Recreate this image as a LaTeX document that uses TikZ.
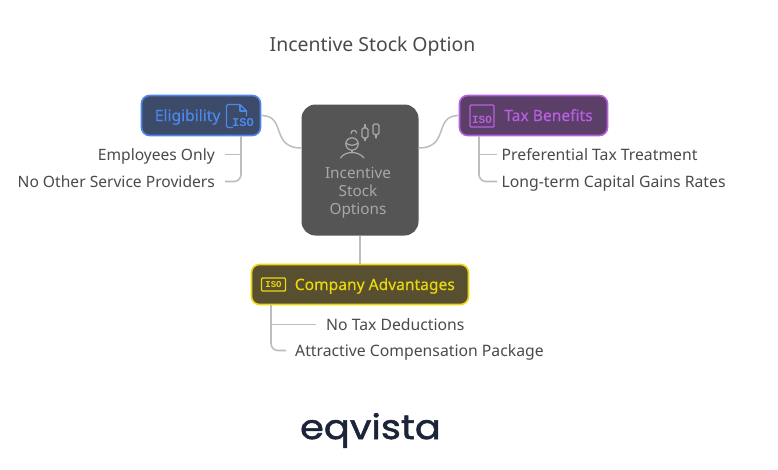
\documentclass[tikz,border=0pt]{standalone}
\usepackage{fontspec}
\setmainfont{Noto Sans}
\newfontfamily\logofont[FakeBold=1.6,FakeStretch=1.13]{Poppins}
\newfontfamily\topicfont[FakeBold=0.25]{Noto Sans}
\newfontfamily\isofont{Liberation Mono}
\definecolor{wire}{HTML}{BDBDBD}
\definecolor{leaf}{HTML}{4A4A4A}
\definecolor{core}{HTML}{555555}
\definecolor{coretxt}{HTML}{A8A8A8}
\definecolor{bluef}{HTML}{3D4B6B}\definecolor{blueb}{HTML}{4C88EA}
\definecolor{purf}{HTML}{5C3F69}\definecolor{purb}{HTML}{B760DF}
\definecolor{yelf}{HTML}{574F2F}\definecolor{yelb}{HTML}{EAD90C}
\definecolor{logoc}{HTML}{1B2438}
\tikzset{
  x=1pt,y=-1pt,
  wireline/.style={draw=wire,line width=1.6pt,rounded corners=7pt},
  topic/.style={rounded corners=8pt,line width=1.6pt,minimum height=40pt,inner sep=0pt,font=\topicfont\fontsize{15.6}{18}\selectfont},
  leafbox/.style={text=leaf,inner sep=0pt,font=\fontsize{15.6}{18}\selectfont},
  leafwide/.style={text=leaf,inner sep=0pt,font=\fontsize{15.75}{18}\selectfont},
  iso/.style={inner sep=0pt,font=\isofont\bfseries\fontsize{11}{11}\selectfont},
}
\begin{document}
\begin{tikzpicture}
\useasboundingbox[fill=white] (0,0) rectangle (778,469);
\node[inner sep=0pt,text=leaf,anchor=base,font=\fontsize{19.4}{22}\selectfont] (title) at (372.5,51.5) {Incentive Stock Option};

% nodes
\node[fill=core,rounded corners=14pt,minimum width=117pt,minimum height=131pt,inner sep=0pt] (central) at (360,170) {};
\node[text=coretxt,inner sep=0pt,anchor=base,font=\fontsize{15.3}{18}\selectfont] (centraltxt1) at (358,178) {Incentive};
\node[text=coretxt,inner sep=0pt,anchor=base,font=\fontsize{15.3}{18}\selectfont] (centraltxt2) at (358,196) {Stock};
\node[text=coretxt,inner sep=0pt,anchor=base,font=\fontsize{15.3}{18}\selectfont] (centraltxt3) at (358,214) {Options};
\node[topic,fill=bluef,draw=blueb,minimum width=119pt] (elig) at (201,115.5) {};
\node[topic,fill=purf,draw=purb,minimum width=148pt] (tax) at (533.5,115.5) {};
\node[topic,fill=yelf,draw=yelb,minimum width=217pt] (comp) at (360,284.5) {};
\node[topic,text=blueb,anchor=base west,minimum height=0pt] (eligt) at (154,121) {Eligibility};
\node[topic,text=purb,anchor=base west,minimum height=0pt] (taxt) at (503.5,121) {Tax Benefits};
\node[topic,text=yelb,anchor=base west,minimum height=0pt] (compt) at (294,290) {Company Advantages};

% leaves
\node[leafbox,anchor=base east] (l1) at (215,160) {Employees Only};
\node[leafbox,anchor=base east] (l2) at (215,187) {No Other Service Providers};
\node[leafwide,anchor=base west] (r1) at (501.5,160) {Preferential Tax Treatment};
\node[leafwide,anchor=base west] (r2) at (501.5,187) {Long-term Capital Gains Rates};
\node[leafwide,anchor=base west] (b1) at (326,330) {No Tax Deductions};
\node[leafwide,anchor=base west] (b2) at (295,356) {Attractive Compensation Package};

% connector anchors
\coordinate (cw) at ([yshift=22pt]central.west);
\coordinate (ce) at ([yshift=22pt]central.east);
\coordinate (ew1) at (241,136);
\coordinate (el1) at (225,154.5);
\coordinate (el2) at (225,181.5);
\coordinate (tw1) at (479,136);
\coordinate (tl1) at (497,154.5);
\coordinate (tl2) at (497,181.5);
\coordinate (cw1) at (271,305);
\coordinate (bl1) at (316,324.5);
\coordinate (bl2) at (286,350.5);

% connectors
\draw[draw=wire,line width=1.5pt] (elig.east) .. controls (287,115.5) and (270,148) .. (cw);
\draw[draw=wire,line width=1.5pt] (tax.west) .. controls (433,115.5) and (450,148) .. (ce);
\draw[draw=wire,line width=1.6pt] (central.south) -- (comp.north);
\draw[wireline] (ew1) -- (241,181.5) -- (el2);
\draw[wireline] (241,154.5) -- (el1);
\draw[wireline] (tw1) -- (479,181.5) -- (tl2);
\draw[wireline] (479,154.5) -- (tl1);
\draw[wireline] (cw1) -- (271,350.5) -- (bl2);
\draw[wireline] (271,324.5) -- (bl1);

% eligibility icon
\draw[blueb,line width=1.3pt,line join=round,rounded corners=1.5pt] (233,127.5) -- (226.5,127.5) -- (226.5,104.5) -- (240,104.5);
\draw[blueb,line width=1.3pt,line join=round] (240,104.5) -- (246.5,111) -- (246.5,116);
\draw[blueb,line width=1.1pt,line join=round] (240,104.5) -- (240,111) -- (246.5,111);
\node[iso,text=blueb,font=\isofont\bfseries\fontsize{12}{12}\selectfont] (i1) at (243,123) {ISO};

% tax icon
\draw[purb,line width=1.4pt,rounded corners=1pt] (470,105) rectangle (494,127);
\node[iso,text=purb] (i2) at (482,119.5) {ISO};

% company icon
\draw[yelb,line width=1.4pt,rounded corners=1pt] (261.5,278) rectangle (285.5,291);
\node[iso,text=yelb,font=\isofont\bfseries\fontsize{9}{9}\selectfont] (i3) at (273.5,284.5) {ISO};

% central icon
\begin{scope}[coretxt,line width=1.2pt,line cap=round]
\draw (352,144) circle (6.2);
\draw (345.8,143) .. controls (350,146) and (354,146) .. (358.2,143);
\draw (352,150.5) -- (352,153);
\draw (340.5,158) .. controls (343,154) and (348,152.5) .. (352,152.5) .. controls (356,152.5) and (361,154) .. (364,158);
\draw (351,133.5) .. controls (351,129.5) and (356.5,129.5) .. (356.5,133);
\draw[rounded corners=1.5pt] (362,128) rectangle (368,138);
\draw (365,124.5) -- (365,128) (365,138) -- (365,140.5);
\draw[rounded corners=1.5pt] (373,124) rectangle (379,134.5);
\draw (376,134.5) -- (376,138);
\end{scope}

% logo
\node[inner sep=0pt,text=logoc,anchor=base,font=\logofont\fontsize{34}{38}\selectfont] (logo) at (370.5,439) {eqvista};
\end{tikzpicture}
\end{document}
